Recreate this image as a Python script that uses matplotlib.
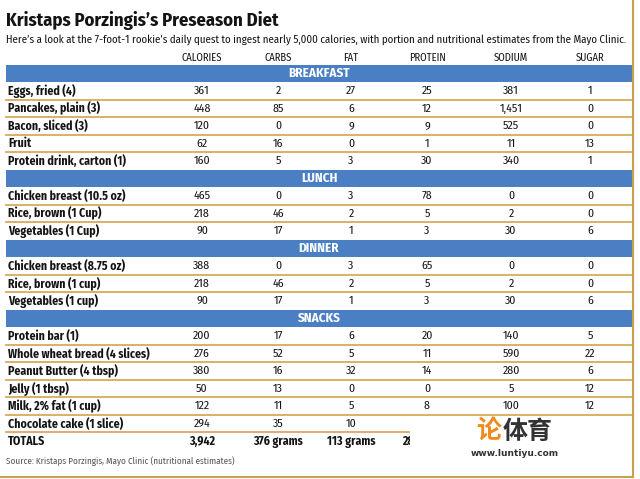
import matplotlib.pyplot as plt
from matplotlib.patches import Rectangle

# table data
columns = ['CALORIES', 'CARBS', 'FAT', 'PROTEIN', 'SODIUM', 'SUGAR']
sections = ['BREAKFAST', 'LUNCH', 'DINNER', 'SNACKS']

breakfast = ['Eggs, fried (4)', 'Pancakes, plain (3)', 'Bacon, sliced (3)', 'Fruit',
             'Protein drink, carton (1)']
lunch = ['Chicken breast (10.5 oz)', 'Rice, brown (1 Cup)', 'Vegetables (1 Cup)']
dinner = ['Chicken breast (8.75 oz)', 'Rice, brown (1 cup)', 'Vegetables (1 cup)']
snacks = ['Protein bar (1)', 'Whole wheat bread (4 slices)', 'Peanut Butter (4 tbsp)',
          'Jelly (1 tbsp)', 'Milk, 2% fat (1 cup)', 'Chocolate cake (1 slice)']

calories = [361, 448, 120, 62, 160, 465, 218, 90, 388, 218, 90, 200, 276, 380, 50, 122, 294]
carbs = [2, 85, 0, 16, 5, 0, 46, 17, 0, 46, 17, 17, 52, 16, 13, 11, 35]
fat = [27, 6, 9, 0, 3, 3, 2, 1, 3, 2, 1, 6, 5, 32, 0, 5, 10]
protein = [25, 12, 9, 1, 30, 78, 5, 3, 65, 5, 3, 20, 11, 14, 0, 8, None]
sodium = [381, 1451, 525, 11, 340, 0, 2, 30, 0, 2, 30, 140, 590, 280, 5, 100, None]
sugar = [1, 0, 0, 13, 1, 0, 0, 6, 0, 0, 6, 5, 22, 6, 12, 12, None]

totals = ['3,942', '376 grams', '113 grams', '289 grams', '', '']

col_x = [202, 278, 351, 427, 511, 590]
blue = '#4a7fc3'
gold = '#d9a95b'
ink = '#141414'
fam = ['Fira Sans Condensed', 'Roboto Condensed', 'DejaVu Sans']
fs = 8.5

fig = plt.figure(figsize=(6.4, 4.79), dpi=100)
ax = fig.add_axes([0, 0, 1, 1])
ax.set_xlim(0, 640)
ax.set_ylim(479, 0)
ax.axis('off')

ax.text(6, 20, "Kristaps Porzingis\u2019s Preseason Diet", fontsize=13.4, fontweight='bold',
        family=fam, color=ink, va='center')
ax.text(6, 40, "Here\u2019s a look at the 7-foot-1 rookie\u2019s daily quest to ingest nearly 5,000 calories, "
        "with portion and nutritional estimates from the Mayo Clinic.",
        fontsize=7.85, family=fam, color=ink, va='center')
for x, c in zip(col_x, columns):
    ax.text(x, 58, c, fontsize=7.6, family=fam, color=ink, ha='center', va='center')

values = list(zip(calories, carbs, fat, protein, sodium, sugar))
pitch = 17.52
y = 73.5
i = 0
for sec, items in zip(sections, [breakfast, lunch, dinner, snacks]):
    ax.add_patch(Rectangle((6, y - 8.3), 626, 16.6, color=blue, lw=0))
    ax.text(319, y, sec, fontsize=9.4, fontweight='bold', family=fam, color='white',
            ha='center', va='center')
    for k, food in enumerate(items):
        y += pitch
        ax.text(8, y, food, fontsize=fs, fontweight='bold', family=fam, color=ink, va='center')
        for x, v in zip(col_x, values[i]):
            if v is not None:
                ax.text(x, y, f'{v:,}', fontsize=fs, family=fam, color=ink,
                        ha='center', va='center')
        if k < len(items) - 1 or sec == 'SNACKS':
            ax.plot([6, 632], [y + 8.6, y + 8.6], color=gold, lw=1.3)
        i += 1
    y += pitch

# totals row
ax.text(8, y, 'TOTALS', fontsize=fs, fontweight='bold', family=fam, color=ink, va='center')
for x, t in zip(col_x, totals):
    ax.text(x, y, t, fontsize=fs, fontweight='bold', family=fam, color=ink,
            ha='center', va='center')

ax.text(6, 461, 'Source: Kristaps Porzingis, Mayo Clinic (nutritional estimates)',
        fontsize=6.5, family=fam, color='#555555', va='center')

# watermark patch over the lower right corner
ax.add_patch(Rectangle((409.5, 417.5), 222, 55, color='white', lw=0, zorder=5))
ax.text(476, 432, '\u8bba', fontsize=18, fontweight='bold', color='#f08a1c',
        family=['Noto Sans CJK SC'], va='center', zorder=6)
ax.text(503, 432, '\u4f53\u80b2', fontsize=18, fontweight='bold', color='#333333',
        family=['Noto Sans CJK SC'], va='center', zorder=6)
ax.text(515, 453, 'www.luntiyu.com', fontsize=6.5, fontweight='bold', color='#333333',
        family=['DejaVu Sans'], ha='center', va='center', zorder=6)

# frame on right and bottom
ax.plot([633, 633], [0, 477], color='#c9a14c', lw=1.5, zorder=7)
ax.plot([0, 633], [477, 477], color='#c9a14c', lw=1.5, zorder=7)

fig.savefig('out.png', dpi=100)
